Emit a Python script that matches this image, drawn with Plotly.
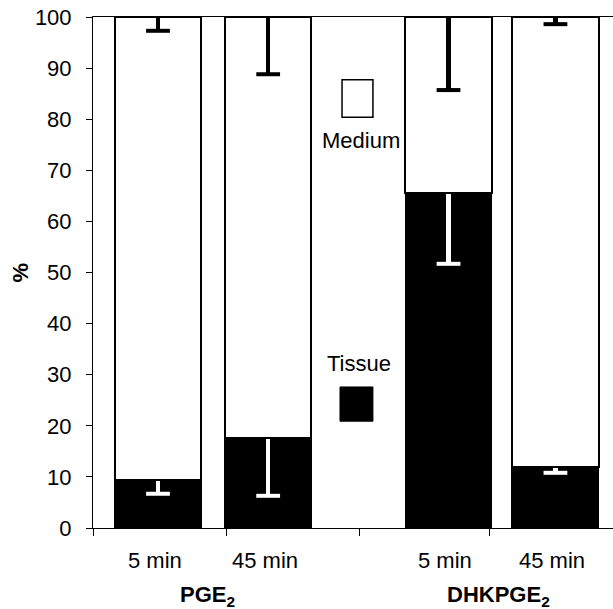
import plotly.graph_objects as go

# Data
bar_labels = ["5 min", "45 min", "5 min", "45 min"]
x_pos = [0.0, 1.02, 2.69, 3.68]
tissue = [9.4, 17.7, 65.6, 11.9]
tissue_err = [2.7, 11.4, 13.9, 1.1]
medium = [100 - t for t in tissue]
medium_err = [2.7, 11.2, 14.3, 1.4]
groups = ["PGE<sub>2</sub>", "DHKPGE<sub>2</sub>"]
group_pos = [0.46, 3.15]
y_ticks = list(range(0, 101, 10))
x_tick_marks = [-0.6, 0.63, 1.87, 3.07]

FONT = "Liberation Sans, Arial, sans-serif"
FS = 22

tissue_low = [t - e for t, e in zip(tissue, tissue_err)]
medium_top = [t + m for t, m in zip(tissue, medium)]
medium_low = [top - e for top, e in zip(medium_top, medium_err)]

fig = go.Figure()
fig.add_trace(go.Bar(
    x=x_pos, y=tissue, width=0.8, name="Tissue",
    marker=dict(color="black", line=dict(color="black", width=1.5)),
    error_y=dict(type="data", symmetric=False, array=[0]*4, arrayminus=tissue_err,
                 color="white", thickness=4.5, width=0),
))
fig.add_trace(go.Bar(
    x=x_pos, y=medium, width=0.8, name="Medium",
    marker=dict(color="white", line=dict(color="black", width=2)),
    error_y=dict(type="data", symmetric=False, array=[0]*4, arrayminus=medium_err,
                 color="black", thickness=4.5, width=0),
))
# error-bar caps at the lower ends
fig.add_trace(go.Scatter(
    x=x_pos, y=tissue_low, mode="markers", hoverinfo="skip",
    marker=dict(symbol="line-ew", size=17, line=dict(color="white", width=4)),
))
fig.add_trace(go.Scatter(
    x=x_pos, y=medium_low, mode="markers", hoverinfo="skip",
    marker=dict(symbol="line-ew", size=17, line=dict(color="black", width=4)),
))

annotations = []
for xp, lab in zip(x_pos, bar_labels):
    annotations.append(dict(x=xp - 0.03, y=-0.064, xref="x", yref="paper", text=lab,
                            xanchor="center", yanchor="middle", showarrow=False,
                            font=dict(size=FS, color="black", family=FONT)))
for gp, g in zip(group_pos, groups):
    annotations.append(dict(x=gp, y=-0.134, xref="x", yref="paper", text="<b>" + g + "</b>",
                            xanchor="center", yanchor="middle", showarrow=False,
                            font=dict(size=FS, color="black", family=FONT)))
annotations.append(dict(x=-0.1385, y=0.5, xref="paper", yref="paper", text="<b>%</b>",
                        textangle=-90, xanchor="center", yanchor="middle", showarrow=False,
                        font=dict(size=FS, color="black", family=FONT)))
# legend labels
annotations.append(dict(x=1.884, y=75.9, xref="x", yref="y", text="Medium", showarrow=False,
                        xanchor="center", font=dict(size=FS, color="black", family=FONT)))
annotations.append(dict(x=1.861, y=32.1, xref="x", yref="y", text="Tissue", showarrow=False,
                        xanchor="center", font=dict(size=FS, color="black", family=FONT)))

shapes = [
    dict(type="rect", xref="x", yref="y", x0=1.704, x1=1.99, y0=80.4, y1=87.7,
         line=dict(color="black", width=1.5), fillcolor="white"),
    dict(type="rect", xref="x", yref="y", x0=1.685, x1=1.99, y0=20.9, y1=27.6,
         line=dict(color="black", width=1), fillcolor="black"),
]

fig.update_layout(
    barmode="stack",
    width=613, height=609,
    margin=dict(l=93, r=0, t=17, b=81, autoexpand=False),
    paper_bgcolor="white", plot_bgcolor="white",
    showlegend=False,
    hovermode=False,
    annotations=annotations,
    shapes=shapes,
    font=dict(family=FONT, size=FS, color="black"),
    xaxis=dict(range=[-0.602, 4.213], showgrid=False, zeroline=False, automargin=False,
               tickvals=x_tick_marks, showticklabels=False, ticks="outside", ticklen=7,
               tickcolor="black", showline=True, linecolor="black", linewidth=1,
               mirror=True),
    yaxis=dict(range=[0, 100], tickvals=y_ticks, showgrid=False, zeroline=False,
               automargin=False, ticks="outside", ticklen=6, tickcolor="black",
               showline=True, linecolor="black", linewidth=1,
               tickfont=dict(size=FS, family=FONT), ticklabelstandoff=10),
)

fig.write_html("out.html", config={"displayModeBar": False},
               post_script="document.body.style.margin='0';document.body.style.overflow='hidden';")
